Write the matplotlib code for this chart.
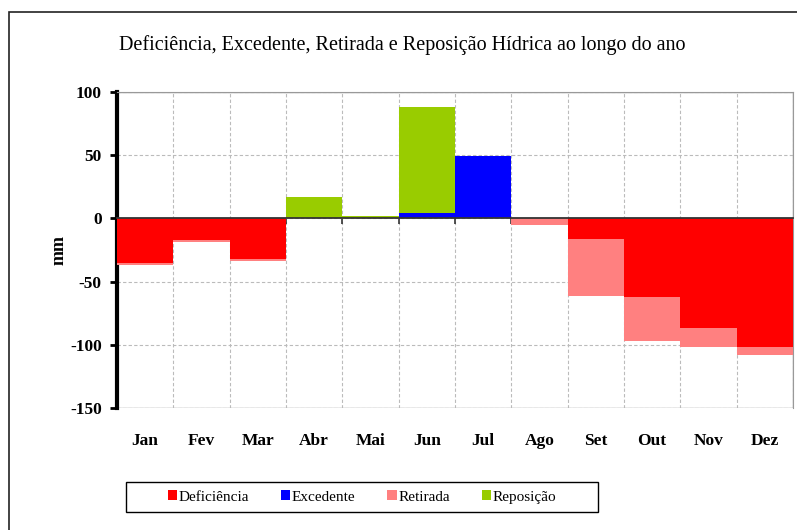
import matplotlib.pyplot as plt
import numpy as np
from matplotlib.patches import Rectangle

plt.rcParams['font.family'] = ['Liberation Serif', 'DejaVu Serif']

meses = ['Jan', 'Fev', 'Mar', 'Abr', 'Mai', 'Jun', 'Jul', 'Ago', 'Set', 'Out', 'Nov', 'Dez']
deficiencia = [-35, -17, -32, 0, 0, 0, 0, 0, -16, -62, -87, -102]
excedente = [0, 0, 0, 0, 0, 4.5, 49, 0, 0, 0, 0, 0]
retirada = [-2, -2, -2, 0, 0, 0, 0, -5, -45, -35, -15, -6]
reposicao = [0, 0, 0, 17, 2, 84, 0, 0, 0, 0, 0, 0]

cores = {'Deficiência': '#ff0000', 'Excedente': '#0000ff',
         'Retirada': '#ff8080', 'Reposição': '#99cc00'}

fig = plt.figure(figsize=(7.97, 5.30), dpi=100)

# moldura externa do gráfico
fig.patches.append(Rectangle((9 / 797, -0.05), 1.2, 1 - 12 / 530 + 0.05,
                             transform=fig.transFigure, fill=False,
                             edgecolor='#222222', lw=1.2))

ax = fig.add_axes([117 / 797, 1 - 408 / 530, 676 / 797, 316 / 530])

x = np.arange(len(meses)) + 0.5
ax.bar(x, deficiencia, width=1, color=cores['Deficiência'], label='Deficiência', zorder=3)
ax.bar(x, excedente, width=1, color=cores['Excedente'], label='Excedente', zorder=3)
ax.bar(x, retirada, width=1, bottom=deficiencia, color=cores['Retirada'], label='Retirada', zorder=3)
ax.bar(x, reposicao, width=1, bottom=excedente, color=cores['Reposição'], label='Reposição', zorder=3)

ax.set_xlim(0, 12)
ax.set_ylim(-150, 100)
ax.set_yticks([100, 50, 0, -50, -100, -150])
ax.set_yticklabels(['100', '50', '0', '-50', '-100', '-150'], fontsize=12.5, fontweight='bold')
ax.tick_params(axis='y', direction='out', length=5, width=2, pad=6)

# eixo horizontal no zero com marcas entre os meses
ax.spines['bottom'].set_position(('data', 0))
ax.spines['bottom'].set_linewidth(1.3)
ax.spines['bottom'].set_color('#333333')
ax.spines['bottom'].set_zorder(4)
ax.set_xticks(np.arange(13))
ax.set_xticklabels([])
ax.tick_params(axis='x', direction='out', length=4, width=1.2, color='#333333')

ax.spines['left'].set_linewidth(3)
ax.spines['left'].set_color('black')
ax.spines['top'].set_color('#999999')
ax.spines['right'].set_color('#999999')
ax.add_patch(Rectangle((0, 0), 1, 1, transform=ax.transAxes, fill=False,
                       edgecolor='#999999', lw=1, zorder=1))

ax.grid(True, color='#bbbbbb', linestyle=(0, (3, 2)), linewidth=0.8, zorder=0)

# rótulos dos meses abaixo do gráfico
sec = ax.secondary_xaxis('bottom')
sec.set_xticks(x)
sec.set_xticklabels(meses, fontsize=12.5, fontweight='bold')
sec.tick_params(length=0, pad=18)
sec.spines['bottom'].set_visible(False)

ax.set_ylabel('mm', fontsize=13, fontweight='bold', labelpad=2)

fig.text(402 / 797, 1 - 45 / 530, 'Deficiência, Excedente, Retirada e Reposição Hídrica ao longo do ano',
         ha='center', va='center', fontsize=14.5)

# legenda sem moldura própria; a caixa é desenhada à parte
leg = fig.legend(loc='center', bbox_to_anchor=(362 / 797, 1 - 497 / 530), ncol=4,
                 frameon=False, fontsize=11,
                 handlelength=0.6, handleheight=0.6, handletextpad=0.1,
                 columnspacing=2.1)
fig.patches.append(Rectangle((126 / 797, 1 - 512 / 530), 472 / 797, 30 / 530,
                             transform=fig.transFigure, fill=False,
                             edgecolor='black', lw=1))

fig.savefig('out.png', dpi=100)
